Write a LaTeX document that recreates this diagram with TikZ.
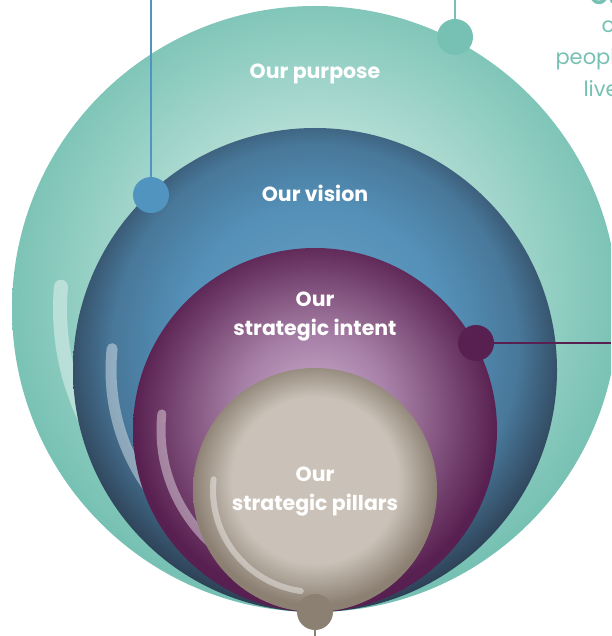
\documentclass[tikz,border=0pt]{standalone}
\usepackage{fontspec}
\setmainfont{Poppins}
\usepackage{tikz}
\usetikzlibrary{positioning}

\definecolor{tealA}{RGB}{118,193,179}
\definecolor{tealB}{RGB}{196,229,222}
\definecolor{blueA}{RGB}{44,62,82}
\definecolor{blueB}{RGB}{84,144,184}
\definecolor{plumA}{RGB}{88,32,80}
\definecolor{plumB}{RGB}{206,176,210}
\definecolor{sandA}{RGB}{140,128,115}
\definecolor{sandB}{RGB}{202,194,184}
\definecolor{dotblue}{RGB}{82,148,192}

\pgfdeclareradialshading{tealball}{\pgfpoint{0bp}{3bp}}{color(0bp)=(tealB); color(12bp)=(tealB!80!tealA); color(26bp)=(tealA); color(50bp)=(tealA)}
\pgfdeclareradialshading{blueball}{\pgfpoint{0bp}{4bp}}{color(0bp)=(blueB!85!white); color(14bp)=(blueB); color(21bp)=(blueB!70!blueA); color(27bp)=(blueA); color(50bp)=(blueA)}
\pgfdeclareradialshading{plumball}{\pgfpoint{0bp}{3bp}}{color(0bp)=(plumB); color(11bp)=(plumB!65!plumA); color(25bp)=(plumA); color(50bp)=(plumA)}
\pgfdeclareradialshading{sandball}{\pgfpoint{0bp}{3bp}}{color(0bp)=(sandB); color(17bp)=(sandB); color(25bp)=(sandA); color(50bp)=(sandA)}

\begin{document}
\begin{tikzpicture}[x=1pt,y=-1pt]
\tikzstyle{ball}=[circle,inner sep=0pt,draw=none]
\tikzstyle{dot}=[circle,inner sep=0pt,minimum size=36pt]
\tikzstyle{hl}=[draw=white,opacity=0.4,line cap=round]
\tikzstyle{lbl}=[text=white,font=\fontsize{20.5}{29}\selectfont\bfseries,align=center]
\tikzstyle{side}=[anchor=base west,text=tealA,font=\fontsize{21}{30}\selectfont]
\useasboundingbox (0,0) rectangle (611,636);
\clip (0,0) rectangle (611,636);

\node[ball,minimum size=606pt,shading=tealball] (purpose) at (315,309) {};
\draw[hl,line width=14pt] (purpose.center) ++(185:255) arc[start angle=185,end angle=140,radius=255];
\node[ball,minimum size=484pt,shading=blueball] (vision) at (315,370) {};
\draw[hl,line width=11pt] (vision.center) ++(186:204) arc[start angle=186,end angle=130,radius=204];
\node[ball,minimum size=364pt,shading=plumball] (intent) at (315,430) {};
\draw[hl,line width=9pt] (intent.center) ++(186:154) arc[start angle=186,end angle=125,radius=154];
\node[ball,minimum size=244pt,shading=sandball] (pillars) at (315,490) {};
\draw[hl,line width=6pt] (pillars.center) ++(186:102) arc[start angle=186,end angle=98,radius=102];

\node[lbl] (tpurpose) at (315,74) {Our purpose};
\node[lbl] (tvision) at (315,193) {Our vision};
\node[lbl] (tintent) at (315,317) {Our\\strategic intent};
\node[lbl] (tpillars) at (315,492) {Our\\strategic pillars};

\coordinate (ptop) at (455,0);
\coordinate (vtop) at (151,0);
\coordinate (iend) at (611,343);
\coordinate (sbot) at (315,636);
\draw[tealA,line width=1.5pt] (455,37) -- (ptop);
\draw[dotblue,line width=1.5pt] (151,195) -- (vtop);
\draw[plumA,line width=2pt] (476,343) -- (iend);
\draw[sandA,line width=1.5pt] (315,612) -- (sbot);
\node[dot,fill=tealA] (pdot) at (455,37) {};
\node[dot,fill=dotblue] (vdot) at (151,195) {};
\node[dot,fill=plumA] (idot) at (476,343) {};
\node[dot,fill=sandA] (sdot) at (315,612) {};

\node[side,font=\fontsize{24}{30}\selectfont\bfseries] (shead) at (586,5) {Our purpose};
\node[side] (sl1) at (598,33) {our};
\node[side] (sl2) at (552,65) {people's};
\node[side] (sl3) at (580,97) {lives};
\end{tikzpicture}
\end{document}
